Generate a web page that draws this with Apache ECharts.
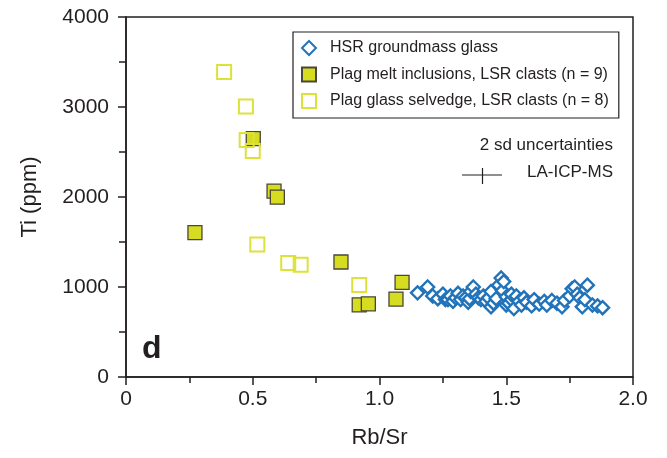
<!DOCTYPE html>
<html>
<head>
<meta charset="utf-8">
<script src="https://cdn.jsdelivr.net/npm/echarts@6/dist/echarts.min.js"></script>
<style>html,body{margin:0;padding:0;background:#fff}#c{width:667px;height:458px}</style>
</head>
<body>
<div id="c"></div>
<script>
const FONT = '"Liberation Sans", Arial, Helvetica, sans-serif';
const xTicks = [0, 0.5, 1.0, 1.5, 2.0];
const yTicks = [0, 1000, 2000, 3000, 4000];
const seriesNames = ['HSR groundmass glass', 'Plag melt inclusions, LSR clasts (n = 9)', 'Plag glass selvedge, LSR clasts (n = 8)'];

// HSR groundmass glass [Rb/Sr, Ti ppm]
const hsr = [
  [1.15,935],[1.19,1000],[1.21,900],[1.23,870],[1.25,920],[1.26,860],[1.27,860],[1.28,900],
  [1.29,840],[1.30,880],[1.31,930],[1.32,860],[1.33,900],[1.34,880],[1.35,830],[1.355,870],
  [1.36,950],[1.37,1000],[1.38,920],[1.39,880],[1.40,860],[1.41,900],[1.42,840],[1.43,880],
  [1.44,950],[1.44,780],[1.45,820],[1.46,870],[1.47,1020],[1.48,1100],[1.485,960],[1.49,1060],
  [1.50,890],[1.50,800],[1.51,820],[1.52,860],[1.52,920],[1.53,760],[1.54,900],[1.55,840],
  [1.56,800],[1.57,880],[1.58,830],[1.60,790],[1.61,860],[1.63,810],[1.65,840],[1.66,800],
  [1.68,850],[1.70,820],[1.72,780],[1.73,850],[1.75,900],[1.76,980],[1.77,1000],[1.78,920],
  [1.79,880],[1.80,780],[1.81,860],[1.82,1020],[1.84,800],[1.86,790],[1.88,770]
];
// Plag melt inclusions, LSR clasts (n = 9)
const meltIncl = [
  [0.272,1604],[0.502,2648],[0.584,2065],[0.597,1998],[0.848,1278],
  [0.920,802],[0.956,813],[1.065,866],[1.089,1051]
];
// Plag glass selvedge, LSR clasts (n = 8)
const selvedge = [
  [0.387,3390],[0.473,3005],[0.476,2633],[0.500,2510],[0.518,1471],
  [0.640,1267],[0.689,1248],[0.920,1021]
];

const chart = echarts.init(document.getElementById('c'), null, {renderer: 'canvas'});
const axisCol = '#231f20';
chart.setOption({
  animation: false,
  backgroundColor: '#fff',
  textStyle: {fontFamily: FONT},
  grid: {left: 126, right: 34, top: 17, bottom: 81, show: true, borderColor: axisCol, borderWidth: 1.5, backgroundColor: 'transparent'},
  legend: {
    orient: 'vertical', left: 293, top: 32,
    padding: [8, 10, 9, 8], itemGap: 10.5, itemWidth: 14, itemHeight: 14,
    borderColor: axisCol, borderWidth: 1.2,
    textStyle: {fontSize: 16, color: '#231f20', fontFamily: FONT, padding: [0, 0, 0, 9]},
    data: seriesNames
  },
  xAxis: {
    type: 'value', min: xTicks[0], max: xTicks[xTicks.length - 1], interval: 0.5,
    name: 'Rb/Sr', nameLocation: 'middle', nameGap: 50,
    nameTextStyle: {fontSize: 22, color: '#231f20', fontFamily: FONT},
    axisLine: {show: true, lineStyle: {color: axisCol, width: 1.5}},
    axisTick: {show: true, inside: false, length: 8, lineStyle: {color: axisCol, width: 1.5}},
    minorTick: {show: true, splitNumber: 2, length: 6, lineStyle: {color: axisCol, width: 1.5}},
    splitLine: {show: false},
    axisLabel: {fontSize: 21, color: '#231f20', margin: 12, fontFamily: FONT,
      formatter: v => (v === 0 ? '0' : v.toFixed(1))}
  },
  yAxis: {
    type: 'value', min: yTicks[0], max: yTicks[yTicks.length - 1], interval: 1000,
    name: 'Ti (ppm)', nameLocation: 'middle', nameGap: 85, nameRotate: 90,
    nameTextStyle: {fontSize: 22, color: '#231f20', fontFamily: FONT},
    axisLine: {show: true, lineStyle: {color: axisCol, width: 1.5}},
    axisTick: {show: true, inside: false, length: 8, lineStyle: {color: axisCol, width: 1.5}},
    minorTick: {show: true, splitNumber: 2, length: 7, lineStyle: {color: axisCol, width: 1.5}},
    splitLine: {show: false},
    axisLabel: {fontSize: 21, color: '#231f20', margin: 17, fontFamily: FONT,
      formatter: v => String(v)}
  },
  series: [
    {
      name: seriesNames[0], type: 'scatter', data: hsr, symbol: 'diamond', symbolSize: [13, 13],
      itemStyle: {color: '#fff', borderColor: '#2273b9', borderWidth: 2.4, opacity: 1}, z: 3
    },
    {
      name: seriesNames[1], type: 'scatter', data: meltIncl, symbol: 'rect', symbolSize: 14,
      itemStyle: {color: '#d6dc1f', borderColor: '#4a4738', borderWidth: 1.3, opacity: 1}, z: 4
    },
    {
      name: seriesNames[2], type: 'scatter', data: selvedge, symbol: 'rect', symbolSize: 14,
      itemStyle: {color: 'rgba(255,255,255,0)', borderColor: '#dde23a', borderWidth: 2, opacity: 1}, z: 5
    }
  ],
  graphic: [
    {type: 'text', left: 142, top: 333, style: {text: 'd', font: 'bold 32px ' + FONT, fill: '#231f20'}},
    {type: 'text', right: 54, top: 137, style: {text: '2 sd uncertainties', font: '17px ' + FONT, fill: '#231f20'}},
    {type: 'text', right: 54, top: 164, style: {text: 'LA-ICP-MS', font: '17px ' + FONT, fill: '#231f20'}},
    {type: 'line', shape: {x1: 462, y1: 175, x2: 502, y2: 175}, style: {stroke: '#231f20', lineWidth: 1.2}},
    {type: 'line', shape: {x1: 482.5, y1: 168, x2: 482.5, y2: 184}, style: {stroke: '#231f20', lineWidth: 1.2}}
  ]
});
</script>
</body>
</html>
